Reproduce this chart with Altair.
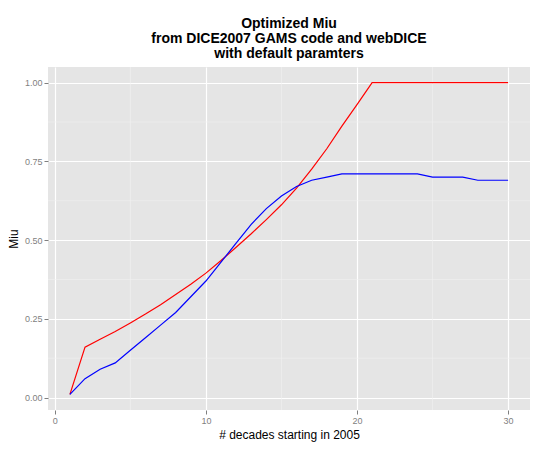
import altair as alt
import pandas as pd

decades = list(range(1, 31))
miu_gams = [0.01, 0.16, 0.185, 0.21, 0.237, 0.265, 0.295, 0.327, 0.36, 0.395,
            0.435, 0.477, 0.52, 0.565, 0.612, 0.665, 0.725, 0.79, 0.862, 0.93,
            1.0, 1.0, 1.0, 1.0, 1.0, 1.0, 1.0, 1.0, 1.0, 1.0]
miu_web = [0.01, 0.06, 0.09, 0.11, 0.15, 0.19, 0.23, 0.27, 0.32, 0.37,
           0.43, 0.49, 0.55, 0.60, 0.64, 0.67, 0.69, 0.70, 0.71, 0.71,
           0.71, 0.71, 0.71, 0.71, 0.70, 0.70, 0.70, 0.69, 0.69, 0.69]
minor_x = [5, 15, 25]
minor_y = [0.125, 0.375, 0.625, 0.875]

df = pd.concat([
    pd.DataFrame({"t": decades, "miu": miu_gams, "src": "GAMS"}),
    pd.DataFrame({"t": decades, "miu": miu_web, "src": "webDICE"}),
])

xs = alt.Scale(domain=[-0.45, 31.45], nice=False, zero=False)
ys = alt.Scale(domain=[-0.0395, 1.0495], nice=False, zero=False)

vminor = alt.Chart(pd.DataFrame({"x": minor_x})).mark_rule(color="#F2F2F2", strokeWidth=0.6).encode(
    x=alt.X("x:Q", scale=xs))
hminor = alt.Chart(pd.DataFrame({"y": minor_y})).mark_rule(color="#F2F2F2", strokeWidth=0.6).encode(
    y=alt.Y("y:Q", scale=ys))

lines = alt.Chart(df).mark_line(strokeWidth=1.2).encode(
    x=alt.X("t:Q", scale=xs, title="# decades starting in 2005",
            axis=alt.Axis(values=[0, 10, 20, 30], format="d")),
    y=alt.Y("miu:Q", scale=ys, title="Miu",
            axis=alt.Axis(values=[0, 0.25, 0.5, 0.75, 1.0], format=".2f")),
    color=alt.Color("src:N", scale=alt.Scale(range=["#FF0000", "#0000FF"]), legend=None),
)

chart = (vminor + hminor + lines).properties(
    width=482, height=343,
    title=alt.Title(["Optimized Miu", "from DICE2007 GAMS code and webDICE", "with default paramters"],
                    fontSize=14, fontWeight="bold", anchor="middle", color="black",
                    font="Liberation Sans", lineHeight=15, offset=6),
    autosize=alt.AutoSizeParams(type="none"),
    padding={"left": 40, "top": 59, "right": 12, "bottom": 32},
).configure_view(fill="#E5E5E5", stroke=None).configure_axis(
    grid=True, gridColor="white", gridWidth=1.2, domain=False,
    tickColor="#7F7F7F", tickSize=4, labelColor="#7F7F7F", labelFontSize=9,
    labelFont="Liberation Sans", titleFont="Liberation Sans", titleFontSize=12,
    titleFontWeight="normal", titleColor="black", labelPadding=2,
).configure_axisY(titlePadding=4).configure_axisX(titlePadding=4)

chart.save("out.html", embed_options={"renderer": "svg", "actions": False})
